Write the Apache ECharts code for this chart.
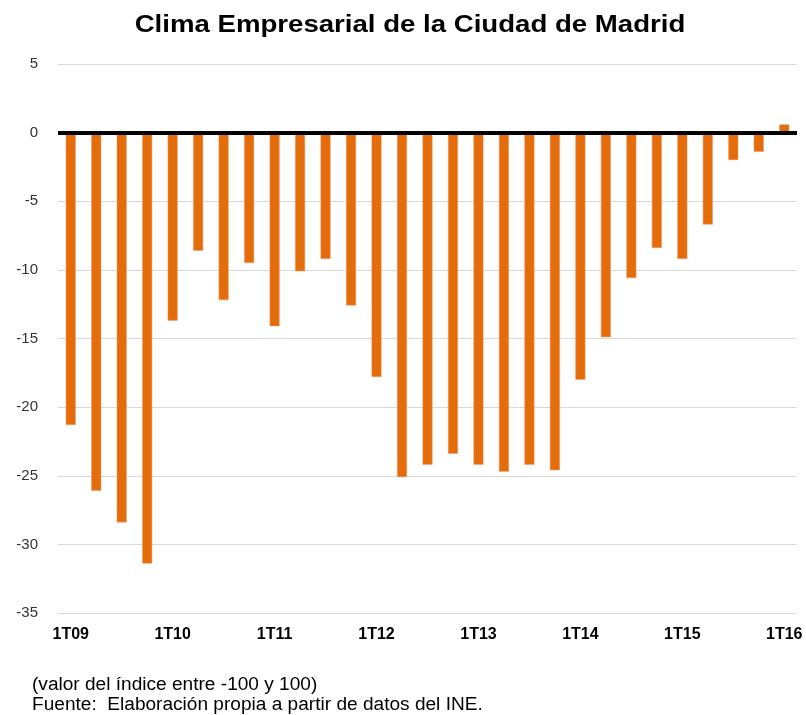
<!DOCTYPE html>
<html>
<head>
<meta charset="utf-8">
<script src="https://cdn.jsdelivr.net/npm/echarts@6/dist/echarts.min.js"></script>
<style>
  html, body { margin: 0; padding: 0; background: #fff; }
  #chart { width: 806px; height: 715px; }
</style>
</head>
<body>
<div id="chart"></div>
<script>
// trimestres 1T09 .. 1T16
const quarters = [
  "1T09", "2T09", "3T09", "4T09",
  "1T10", "2T10", "3T10", "4T10",
  "1T11", "2T11", "3T11", "4T11",
  "1T12", "2T12", "3T12", "4T12",
  "1T13", "2T13", "3T13", "4T13",
  "1T14", "2T14", "3T14", "4T14",
  "1T15", "2T15", "3T15", "4T15",
  "1T16"
];
const clima = [
  -21.3, -26.1, -28.4, -31.4,
  -13.7, -8.6, -12.2, -9.5,
  -14.1, -10.1, -9.2, -12.6,
  -17.8, -25.1, -24.2, -23.4,
  -24.2, -24.7, -24.2, -24.6,
  -18.0, -14.9, -10.6, -8.4,
  -9.2, -6.7, -2.0, -1.4,
  0.6
];
const yMin = -35, yMax = 5, yStep = 5;

const FONT = "Liberation Sans, Arial, sans-serif";
const chart = echarts.init(document.getElementById("chart"));

chart.setOption({
  backgroundColor: "#ffffff",
  animation: false,
  grid: { left: 58, right: 9, top: 64, bottom: 102 },
  xAxis: {
    type: "category",
    data: quarters,
    axisLine: { show: false, onZero: false },
    axisTick: { show: false },
    axisLabel: {
      interval: 3,
      margin: 14,
      fontFamily: FONT,
      fontSize: 16,
      fontWeight: "bold",
      color: "#000"
    }
  },
  yAxis: {
    type: "value",
    min: yMin,
    max: yMax,
    interval: yStep,
    axisLine: { show: false },
    axisTick: { show: false },
    axisLabel: {
      margin: 20,
      fontFamily: FONT,
      fontSize: 15,
      color: "#333"
    },
    splitLine: { lineStyle: { color: "#d9d9d9", width: 1 } }
  },
  series: [
    {
      type: "bar",
      data: clima,
      barWidth: 10,
      itemStyle: { color: "#E46C0A", borderColor: "#F0A070", borderWidth: 0.5 },
      markLine: {
        silent: true,
        symbol: "none",
        label: { show: false },
        lineStyle: { color: "#000", width: 4, type: "solid" },
        data: [{ yAxis: 0 }]
      }
    }
  ],
  graphic: [
    {
      type: "text",
      x: 410,
      y: 25,
      scaleX: 1.15,
      style: {
        text: "Clima Empresarial de la Ciudad de Madrid",
        font: "bold 24px " + FONT,
        fill: "#000",
        align: "center",
        verticalAlign: "middle"
      }
    },
    {
      type: "text",
      x: 32,
      y: 676,
      scaleX: 1.06,
      style: {
        text: "(valor del índice entre -100 y 100)",
        font: "18px " + FONT,
        fill: "#000",
        verticalAlign: "top"
      }
    },
    {
      type: "text",
      x: 32,
      y: 696,
      scaleX: 1.06,
      style: {
        text: "Fuente:  Elaboración propia a partir de datos del INE.",
        font: "18px " + FONT,
        fill: "#000",
        verticalAlign: "top"
      }
    }
  ]
});
</script>
</body>
</html>
